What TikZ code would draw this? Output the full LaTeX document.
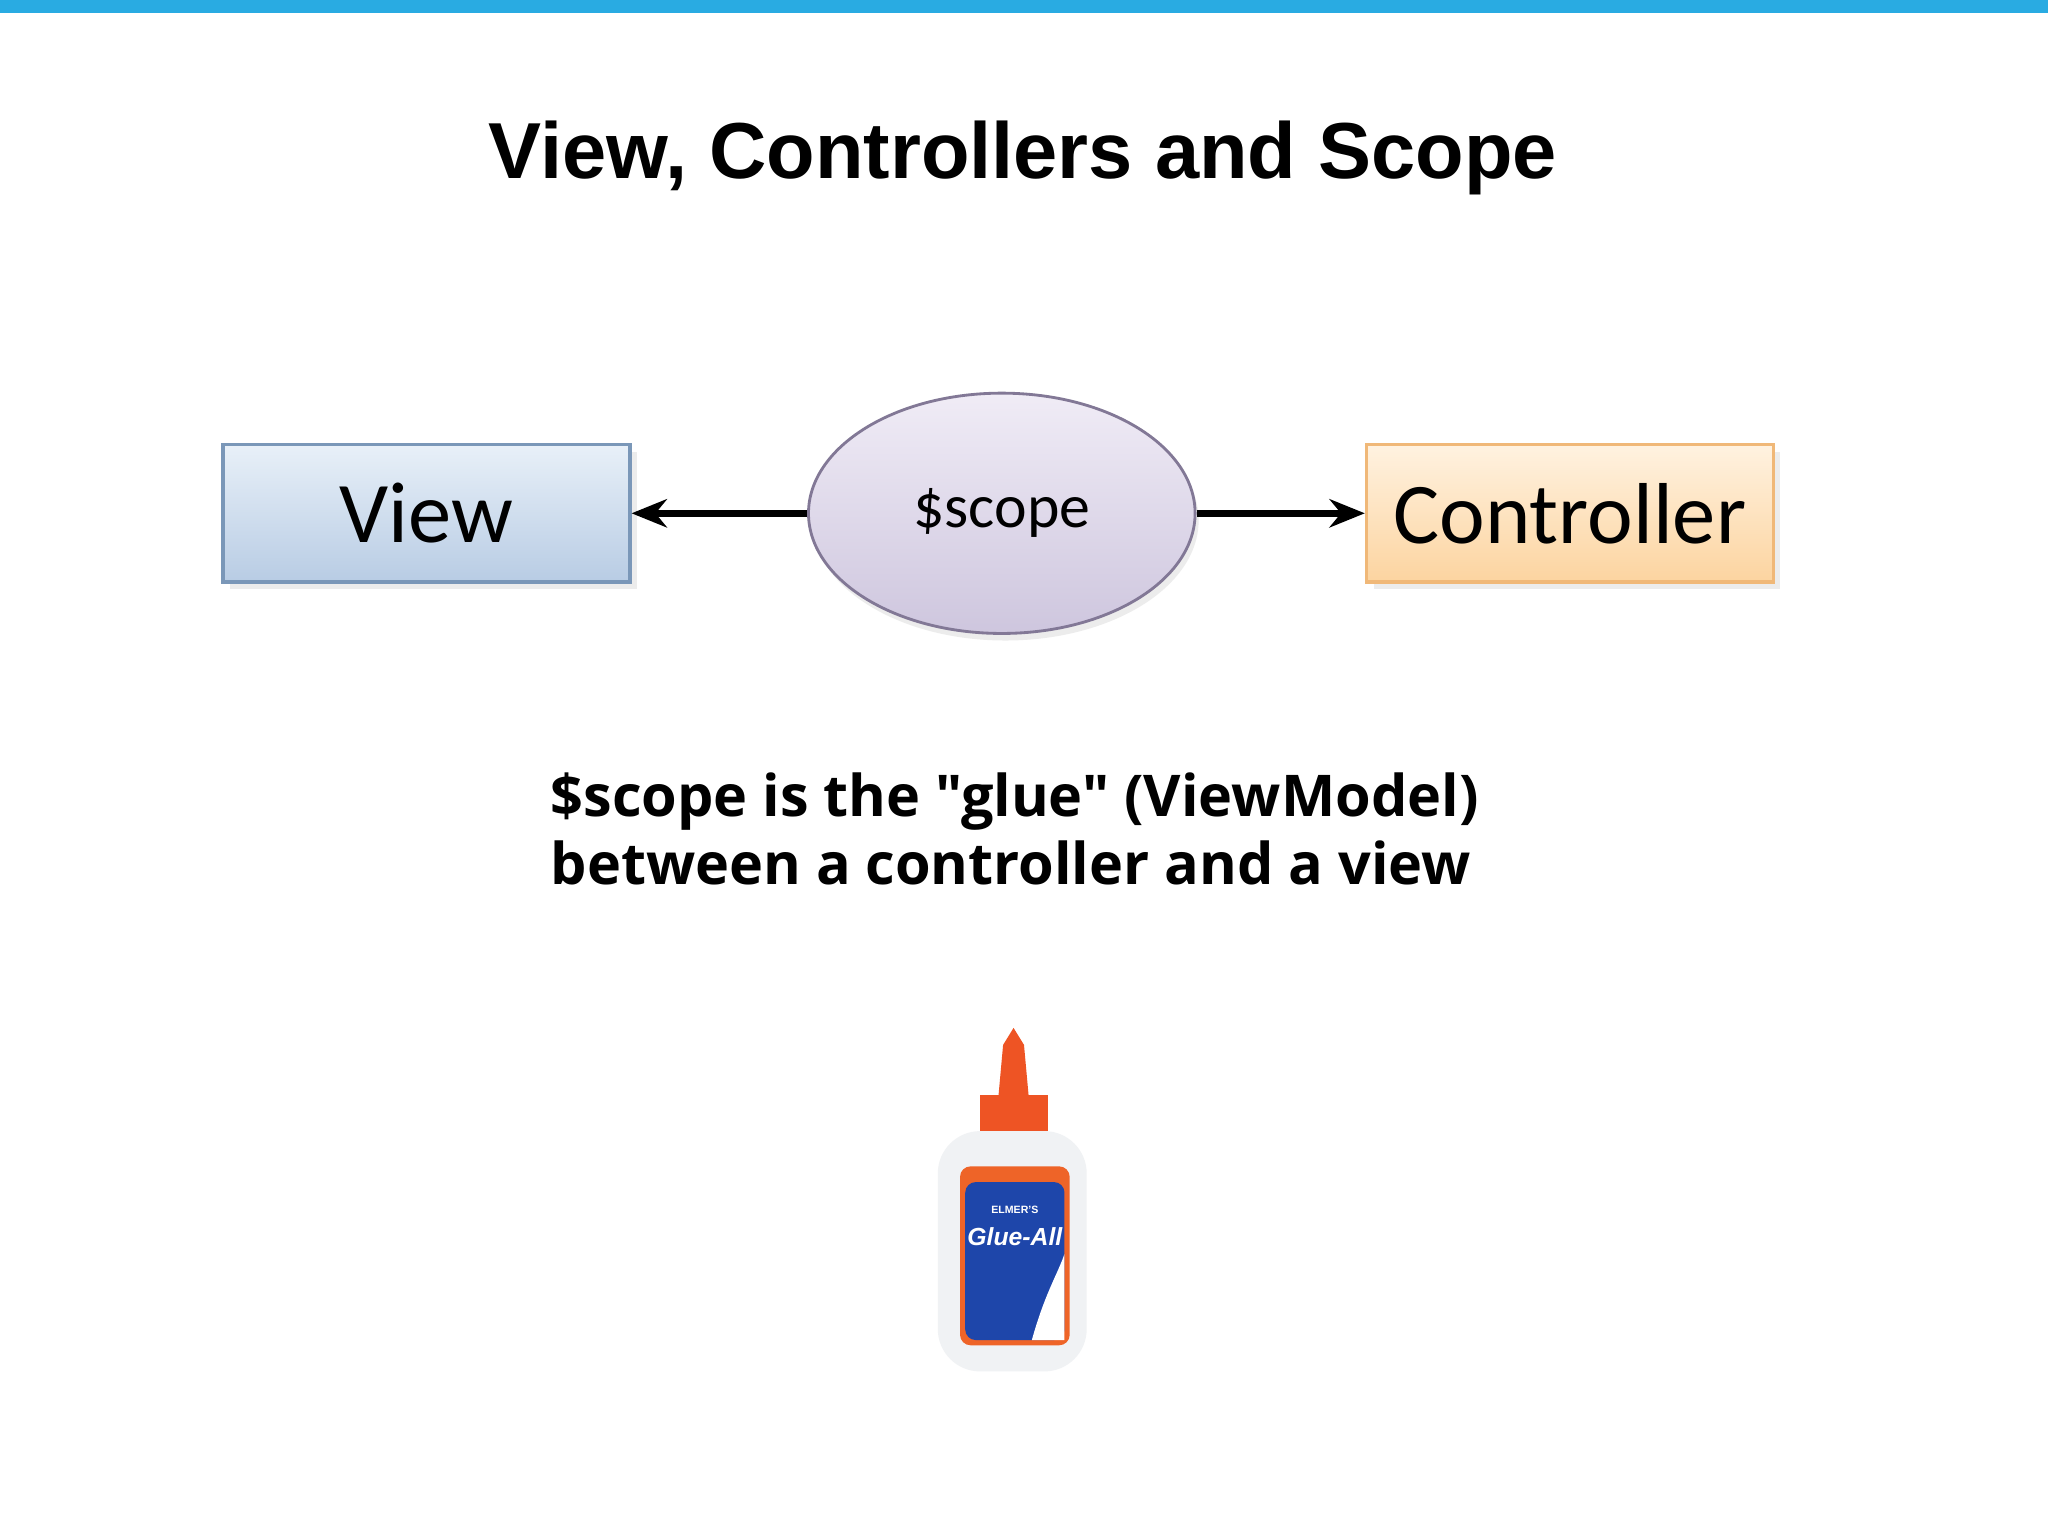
\documentclass[tikz,border=0pt]{standalone}
\usepackage{fontspec}
\setmainfont{Liberation Sans}
\newfontfamily\calfont{Carlito}
\newfontfamily\bodyfont{Open Sans}
\usetikzlibrary{arrows.meta,shadows,shapes.geometric}
\definecolor{bar}{HTML}{29ABE2}
\definecolor{vdraw}{RGB}{122,151,184}
\definecolor{vtop}{RGB}{232,240,248}
\definecolor{vbot}{RGB}{184,204,228}
\definecolor{cdraw}{RGB}{240,184,120}
\definecolor{ctop}{RGB}{255,242,224}
\definecolor{cbot}{RGB}{252,212,160}
\definecolor{sdraw}{RGB}{130,120,150}
\definecolor{stop}{RGB}{240,236,246}
\definecolor{sbot}{RGB}{206,198,222}
\definecolor{gorange}{RGB}{238,84,36}
\definecolor{gorange2}{RGB}{238,100,40}
\definecolor{gwhite}{RGB}{240,242,244}
\definecolor{gblue}{RGB}{30,70,170}
\tikzset{
  box/.style={draw=#1, line width=1pt, text width=315*0.013cm-8pt, align=center, minimum height=105*0.013cm, font=\calfont\fontsize{24.5}{28}\selectfont, drop shadow={opacity=0.15,shadow xshift=2pt,shadow yshift=-2pt}},
  conn/.style={-{Stealth[length=10pt,width=8pt]}, line width=2pt}
}
\begin{document}
\begin{tikzpicture}[x=0.013cm,y=-0.013cm]
\useasboundingbox (0,0) rectangle (1568,1176);
\fill[white] (0,0) rectangle (1568,1176);
\fill[bar] (0,0) rectangle (1568,10);
\node[font=\bfseries\fontsize{22.5}{26}\selectfont] (title) at (783,121) {View, Controllers and Scope};
\node[box=vdraw, top color=vtop, bottom color=vbot] (view) at (326.5,393) {View};
\node[box=cdraw, top color=ctop, bottom color=cbot] (ctrl) at (1202,393) {Controller};
\node[ellipse, draw=sdraw, line width=0.8pt, minimum width=296*0.013cm, minimum height=184*0.013cm, top color=stop, bottom color=sbot, font=\calfont\fontsize{17.5}{20}\selectfont, drop shadow={opacity=0.15,shadow xshift=1pt,shadow yshift=-2pt}] (scope) at (767,393) {\$scope};
\draw[conn] (scope.west) -- (view.east);
\draw[conn] (scope.east) -- (ctrl.west);
\node[anchor=north west, align=left, font=\bodyfont\bfseries\fontsize{16.3}{19.2}\selectfont, inner sep=0] (txt) at (421,591) {\$scope is the "glue" (ViewModel)\\between a controller and a view};
% glue bottle
\fill[gorange] (762,866) -- (768,800) -- (776,787) -- (784,800) -- (790,866) -- cycle;
\fill[gorange] (750,838) rectangle (802,866);
\fill[gwhite, rounded corners=12] (718,866) rectangle (832,1050);
\fill[gorange2, rounded corners=3] (735,893) rectangle (819,1030);
\fill[gblue, rounded corners=3] (739,905) rectangle (815,1026);
\fill[white] (790,1026) .. controls (800,990) and (810,975) .. (815,960) -- (815,1026) -- cycle;
\node[font=\bfseries\itshape\fontsize{7}{8}\selectfont, text=white, inner sep=0] (brand) at (777,947) {Glue-All};
\node[font=\bfseries\fontsize{3}{4}\selectfont, text=white, inner sep=0] (elm) at (777,926) {ELMER'S};
\end{tikzpicture}
\end{document}
